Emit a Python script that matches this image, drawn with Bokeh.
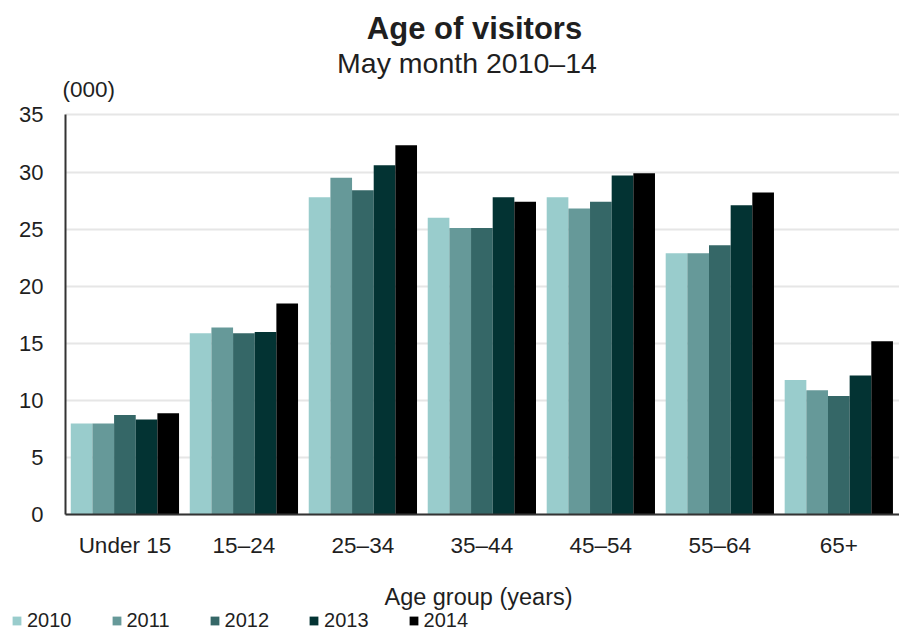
from bokeh.plotting import figure
from bokeh.models import (Range1d, FixedTicker, Label, Legend, LegendItem, ColumnDataSource)
from bokeh.embed import file_html
from bokeh.resources import INLINE

categories = ["Under 15", "15–24", "25–34", "35–44", "45–54", "55–64", "65+"]
years = ["2010", "2011", "2012", "2013", "2014"]
v2010 = [8.0, 15.9, 27.8, 26.0, 27.8, 22.9, 11.8]
v2011 = [8.0, 16.4, 29.5, 25.1, 26.8, 22.9, 10.9]
v2012 = [8.75, 15.9, 28.4, 25.1, 27.4, 23.6, 10.4]
v2013 = [8.35, 16.0, 30.6, 27.8, 29.7, 27.1, 12.2]
v2014 = [8.9, 18.5, 32.35, 27.4, 29.9, 28.2, 15.2]
colors = ["#99cccc", "#669999", "#356767", "#033333", "#000000"]
y_ticks = [0, 5, 10, 15, 20, 25, 30, 35]

FONT = "Liberation Sans"
TXT = "#1f1f1f"
W, H = 899, 632

series = [v2010, v2011, v2012, v2013, v2014]
pos = list(range(len(categories)))

# whole canvas is the frame; the axes sit at fixed data locations
p = figure(width=W, height=H, output_backend="svg", toolbar_location=None, tools="",
           x_range=Range1d(-1.0456, 6.51), y_range=Range1d(-10.29, 45.01),
           min_border_left=0, min_border_right=0, min_border_top=0, min_border_bottom=0)
p.outline_line_color = None
p.background_fill_color = "white"
p.border_fill_color = "white"

bw = 0.182
offsets = [-2 * bw, -bw, 0, bw, 2 * bw]
renderers = []
for yr, col, off, vals in zip(years, colors, offsets, series):
    src = ColumnDataSource(dict(x=[i + off for i in pos], top=vals))
    r = p.vbar(x="x", top="top", width=bw, bottom=0, source=src,
               fill_color=col, line_color=None)
    renderers.append(r)

# grid
p.xgrid.visible = False
p.ygrid.ticker = FixedTicker(ticks=y_ticks)
p.ygrid.grid_line_color = "#e6e6e6"
p.ygrid.grid_line_width = 2
try:
    p.ygrid.cross_bounds = (-0.5, 6.51)
except AttributeError:
    p.ygrid.visible = False
    p.segment(x0=[-0.5] * len(y_ticks), x1=[6.51] * len(y_ticks), y0=y_ticks, y1=y_ticks,
              line_color="#e6e6e6", line_width=2, level="underlay")

# axes
xa = p.xaxis[0]
ya = p.yaxis[0]
xa.fixed_location = 0
xa.bounds = (-0.5, 6.51)
xa.ticker = FixedTicker(ticks=pos)
xa.major_label_overrides = {i: c for i, c in zip(pos, categories)}
ya.fixed_location = -0.5
ya.bounds = (0, 35)
ya.ticker = FixedTicker(ticks=y_ticks)
for ax in (xa, ya):
    ax.axis_line_color = "#333333"
    ax.axis_line_width = 2
    ax.major_tick_line_color = None
    ax.minor_tick_line_color = None
    ax.major_tick_out = 0
    ax.major_tick_in = 0
    ax.major_label_text_font = FONT
    ax.major_label_text_color = TXT
ya.major_label_text_font_size = "22px"
ya.major_label_standoff = 22
xa.major_label_text_font_size = "22.5px"
xa.major_label_standoff = 18

# texts (y = vertical centre of the capitals, from the top)
def lab(x, y, text, size, align="center", style="normal"):
    p.add_layout(Label(x=x, y=H - y, x_units="screen", y_units="screen", text=text,
                       text_font=FONT, text_font_size=size, text_font_style=style,
                       text_color=TXT, text_align=align, text_baseline="alphabetic"))

lab(474, 27.5, "Age of visitors", "31px", style="bold")
lab(466.5, 62.5, "May month 2010–14", "28.5px")
lab(62, 89, "(000)", "22.5px", align="left")
lab(478, 596, "Age group (years)", "23.5px")

legend = Legend(items=[LegendItem(label=yr, renderers=[r]) for yr, r in zip(years, renderers)],
                orientation="horizontal", location=(11, 0),
                padding=0, margin=0, spacing=39, label_standoff=5,
                glyph_width=11, glyph_height=11, label_height=20,
                label_text_font=FONT, label_text_font_size="20px", label_text_color=TXT,
                border_line_color=None, background_fill_alpha=0)
p.add_layout(legend, "center")

open("out.html", "w").write(file_html(p, INLINE))
